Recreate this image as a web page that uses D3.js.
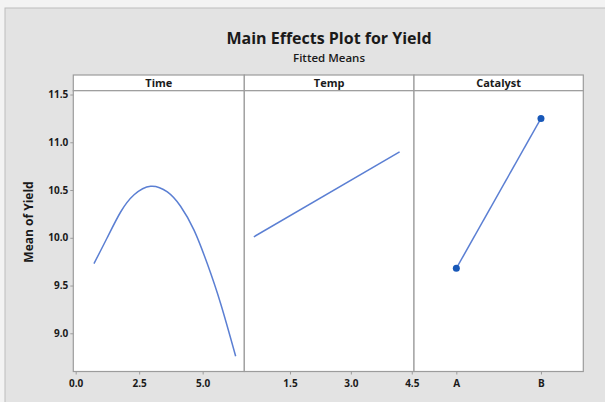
<!DOCTYPE html>
<html>
<head>
<meta charset="utf-8">
<script src="https://cdn.jsdelivr.net/npm/d3@7"></script>
<style>
  html, body { margin: 0; padding: 0; background: #f3f3f3; }
  svg text { font-family: "Open Sans", "Liberation Sans", Arial, sans-serif; fill: #1a1a1a; }
</style>
</head>
<body>
<script>
// fitted means
var timeX = [0.72, 1.24, 1.77, 2.30, 2.95, 3.61, 4.13, 4.66, 5.18, 5.71, 6.30];
var timeY = [9.73, 10.00, 10.27, 10.45, 10.54, 10.48, 10.33, 10.08, 9.73, 9.31, 8.76];
var tempX = [0.61, 4.20];
var tempY = [10.01, 10.90];
var catLevels = ["A", "B"];
var catY = [9.68, 11.25];

var yTicks = [9.0, 9.5, 10.0, 10.5, 11.0, 11.5];
var timeTicks = [0.0, 2.5, 5.0];
var tempTicks = [1.5, 3.0, 4.5];
var panelNames = ["Time", "Temp", "Catalyst"];

var W = 605, H = 402;
var plotTop = 90.7, plotBottom = 371.5, stripTop = 75;
var edges = [73.3, 244.3, 414, 583.3];
var lineColor = "#5b7fd3", dotColor = "#1858b8";

var svg = d3.select("body").append("svg")
    .attr("width", W).attr("height", H);

// grey frame
svg.append("rect").attr("x", 5).attr("y", 8).attr("width", W - 4).attr("height", H)
    .attr("fill", "#e3e3e3").attr("stroke", "#bdbdbd").attr("stroke-width", 1);

svg.append("text").attr("x", 329).attr("y", 44).attr("text-anchor", "middle")
    .attr("font-size", "16px").attr("font-weight", "700")
    .text("Main Effects Plot for Yield");
svg.append("text").attr("x", 329).attr("y", 62).attr("text-anchor", "middle")
    .attr("font-size", "11.5px").attr("font-weight", "600")
    .text("Fitted Means");

var y = d3.scaleLinear().domain([8.60, 11.54]).range([plotBottom, plotTop]);

var xTime = d3.scaleLinear().domain([-0.094, 6.64]).range([edges[0], edges[1]]);
var xTemp = d3.scaleLinear().domain([0.375, 4.555]).range([edges[1], edges[2]]);
var xCat = d3.scalePoint().domain(catLevels).range([edges[2], edges[3]]).padding(0.5);

// panels + strips
panelNames.forEach(function (name, i) {
    var x0 = edges[i], x1 = edges[i + 1];
    svg.append("rect").attr("x", x0).attr("y", stripTop).attr("width", x1 - x0).attr("height", plotTop - stripTop)
        .attr("fill", "#ffffff").attr("stroke", "#9c9c9c").attr("stroke-width", 1.2);
    svg.append("rect").attr("x", x0).attr("y", plotTop).attr("width", x1 - x0).attr("height", plotBottom - plotTop)
        .attr("fill", "#ffffff").attr("stroke", "#9c9c9c").attr("stroke-width", 1.2);
    svg.append("text").attr("x", (x0 + x1) / 2).attr("y", 87).attr("text-anchor", "middle")
        .attr("font-size", "11px").attr("font-weight", "700").text(name);
});

// axes
function styleAxis(g) {
    g.select(".domain").remove();
    g.selectAll(".tick line").attr("stroke", "#9c9c9c");
    g.selectAll(".tick text").attr("font-size", "10px").attr("font-weight", "700");
}
svg.append("g").attr("transform", "translate(" + edges[0] + ",0)")
    .call(d3.axisLeft(y).tickValues(yTicks).tickFormat(d3.format(".1f")).tickSize(3).tickPadding(2))
    .call(styleAxis);
svg.append("g").attr("transform", "translate(0," + plotBottom + ")")
    .call(d3.axisBottom(xTime).tickValues(timeTicks).tickFormat(d3.format(".1f")).tickSize(3).tickPadding(5))
    .call(styleAxis);
svg.append("g").attr("transform", "translate(0," + plotBottom + ")")
    .call(d3.axisBottom(xTemp).tickValues(tempTicks).tickFormat(d3.format(".1f")).tickSize(3).tickPadding(5))
    .call(styleAxis);
svg.append("g").attr("transform", "translate(0," + plotBottom + ")")
    .call(d3.axisBottom(xCat).tickSize(3).tickPadding(5))
    .call(styleAxis);

svg.append("text").attr("transform", "translate(33,222) rotate(-90)")
    .attr("text-anchor", "middle").attr("font-size", "12px").attr("font-weight", "700")
    .text("Mean of Yield");

// lines
var timeLine = d3.line().curve(d3.curveNatural)
    .x(function (d) { return xTime(d[0]); }).y(function (d) { return y(d[1]); });
svg.append("path").datum(d3.zip(timeX, timeY)).attr("d", timeLine)
    .attr("fill", "none").attr("stroke", lineColor).attr("stroke-width", 1.5);

var tempLine = d3.line()
    .x(function (d) { return xTemp(d[0]); }).y(function (d) { return y(d[1]); });
svg.append("path").datum(d3.zip(tempX, tempY)).attr("d", tempLine)
    .attr("fill", "none").attr("stroke", lineColor).attr("stroke-width", 1.5);

var catData = d3.zip(catLevels, catY);
var catLine = d3.line()
    .x(function (d) { return xCat(d[0]); }).y(function (d) { return y(d[1]); });
svg.append("path").datum(catData).attr("d", catLine)
    .attr("fill", "none").attr("stroke", lineColor).attr("stroke-width", 1.5);
svg.selectAll("circle.cat").data(catData).enter().append("circle")
    .attr("class", "cat")
    .attr("cx", function (d) { return xCat(d[0]); })
    .attr("cy", function (d) { return y(d[1]); })
    .attr("r", 3.5).attr("fill", dotColor);
</script>
</body>
</html>
